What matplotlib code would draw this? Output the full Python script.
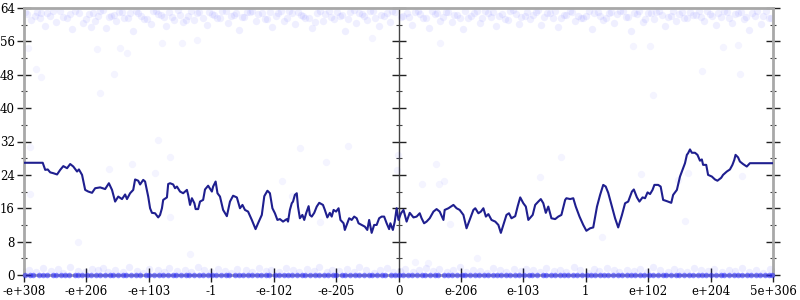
import matplotlib
matplotlib.use("Agg")
import matplotlib.pyplot as plt
from matplotlib.ticker import MultipleLocator

# ---------------- data ----------------
tick_labels = ["-e+308", "-e+206", "-e+103", "-1", "-e-102", "-e-205", "0",
               "e-206", "e-103", "1", "e+102", "e+204", "5e+306"]
y_ticks = [0, 8, 16, 24, 32, 40, 48, 56, 64]

line_x = [0.00, 0.30, 0.34, 0.38, 0.42, 0.47, 0.53, 0.58, 0.63, 0.69,
          0.74, 0.79, 0.85, 0.88, 0.93, 0.98, 1.03, 1.09, 1.14, 1.22,
          1.30, 1.36, 1.41, 1.46, 1.51, 1.57, 1.62, 1.65, 1.70, 1.75,
          1.78, 1.83, 1.86, 1.91, 1.94,
          1.99, 2.02, 2.05, 2.10, 2.15, 2.18, 2.21, 2.23, 2.29, 2.31,
          2.34, 2.39, 2.42, 2.45, 2.50, 2.55, 2.61, 2.63, 2.66, 2.69,
          2.73, 2.75, 2.79, 2.82, 2.87, 2.90, 2.95, 3.01, 3.03, 3.07,
          3.10, 3.14, 3.19, 3.25, 3.30, 3.35, 3.41, 3.46, 3.50, 3.54,
          3.59, 3.65, 3.71, 3.75, 3.81, 3.85, 3.90, 3.94, 3.98, 4.02,
          4.06, 4.10, 4.15, 4.21, 4.23, 4.26, 4.29, 4.31, 4.34, 4.37,
          4.39, 4.42, 4.46, 4.49, 4.52, 4.56, 4.58, 4.61, 4.65, 4.69,
          4.73, 4.79, 4.82, 4.86, 4.90, 4.93, 4.96, 5.00, 5.04, 5.07,
          5.12, 5.14, 5.18, 5.21, 5.25, 5.29, 5.33, 5.36, 5.41, 5.46,
          5.50, 5.53, 5.57, 5.61, 5.65, 5.69, 5.73, 5.77, 5.81, 5.85,
          5.87, 5.91, 5.94,
          5.97, 6.00, 6.04, 6.08,
          6.13, 6.18, 6.24, 6.29, 6.34, 6.37, 6.41, 6.45, 6.50, 6.56,
          6.61, 6.66, 6.72, 6.74, 6.80, 6.84, 6.88, 6.93, 6.98, 7.04,
          7.09, 7.15, 7.20, 7.23, 7.28, 7.32, 7.36, 7.40, 7.44, 7.49,
          7.55, 7.60, 7.64, 7.68, 7.73, 7.77, 7.81, 7.87, 7.91, 7.95,
          8.00,
          8.04, 8.08, 8.15, 8.19, 8.24, 8.28, 8.32, 8.36, 8.40, 8.45,
          8.51, 8.56, 8.61, 8.67, 8.69, 8.75, 8.80, 8.84, 8.90, 8.96,
          9.01, 9.07, 9.12, 9.18, 9.23, 9.28, 9.32, 9.36, 9.42, 9.47,
          9.52, 9.58, 9.63, 9.68, 9.74, 9.77, 9.82, 9.86, 9.91, 9.95,
          9.99,
          10.03, 10.07, 10.10, 10.16, 10.20, 10.24, 10.30, 10.37, 10.40, 10.46,
          10.51, 10.56, 10.59, 10.62, 10.64, 10.67, 10.70, 10.75, 10.79, 10.83,
          10.86, 10.88, 10.93, 10.96, 11.02, 11.07, 11.11, 11.17, 11.20, 11.26,
          11.31, 11.35, 11.38, 11.40, 11.44, 11.47, 11.52, 11.58, 11.63, 12.00]

line_y = [26.9, 26.9, 25.2, 25.3, 24.6, 24.4, 24.1, 25.2, 26.1, 25.6,
          26.6, 26.0, 24.8, 25.3, 24.0, 20.4, 20.0, 19.7, 20.8, 21.0,
          20.6, 22.0, 20.4, 17.6, 18.8, 18.2, 19.3, 18.2, 19.6, 20.4,
          22.9, 22.6, 21.7, 22.8, 22.4,
          18.8, 16.0, 14.9, 14.8, 13.8, 14.4, 16.0, 18.0, 18.6, 21.8,
          22.0, 21.7, 20.8, 21.2, 20.0, 19.6, 20.4, 19.2, 16.8, 18.4,
          17.2, 15.8, 15.8, 17.6, 18.0, 20.5, 21.4, 20.0, 21.2, 22.4,
          19.6, 18.8, 15.6, 14.1, 17.6, 19.0, 18.6, 16.0, 16.8, 15.6,
          15.2, 13.2, 11.0, 12.4, 14.4, 18.9, 20.2, 19.6, 16.0, 14.8,
          13.2, 13.4, 12.8, 13.4, 12.8, 15.6, 17.2, 17.6, 19.2, 19.6,
          16.4, 13.6, 14.4, 13.2, 14.8, 16.5, 14.4, 14.0, 14.9, 16.4,
          17.3, 16.8, 15.6, 13.8, 14.9, 14.0, 15.6, 15.2, 16.0, 13.2,
          12.4, 10.8, 12.4, 13.6, 13.2, 14.0, 13.6, 12.4, 12.0, 11.6,
          10.8, 13.2, 10.1, 12.0, 12.0, 13.6, 14.0, 14.0, 12.4, 11.0,
          12.4, 10.8, 12.8,
          16.0, 13.2, 14.8, 15.6,
          12.8, 14.9, 13.8, 14.0, 14.8, 13.6, 12.4, 12.8, 13.6, 15.2,
          15.8, 15.2, 13.2, 15.6, 16.0, 16.4, 16.8, 16.0, 15.6, 14.4,
          11.2, 13.6, 15.6, 16.0, 14.8, 15.2, 16.0, 14.0, 14.6, 13.2,
          12.8, 12.0, 10.1, 12.0, 14.4, 14.8, 13.6, 14.1, 16.5, 18.6,
          17.2,
          16.4, 13.2, 14.4, 16.8, 17.6, 18.2, 17.2, 14.9, 16.4, 13.6,
          13.4, 14.0, 14.4, 18.0, 18.4, 18.2, 18.4, 16.4, 14.0, 12.0,
          10.6, 11.2, 11.4, 16.4, 19.2, 21.6, 21.2, 19.7, 16.4, 13.6,
          11.4, 14.4, 17.2, 17.6, 20.0, 20.5, 18.6, 17.6, 18.6, 18.4,
          19.8,
          19.4, 20.4, 21.6, 21.6, 21.2, 18.0, 17.7, 17.3, 19.2, 20.4,
          23.6, 25.6, 26.8, 28.8, 29.2, 30.1, 29.3, 29.3, 28.8, 27.4,
          27.7, 26.4, 26.4, 24.0, 23.6, 22.9, 22.6, 23.3, 24.0, 24.8,
          25.3, 26.4, 27.6, 28.8, 28.2, 27.2, 26.6, 26.0, 26.8, 26.8]

top_x = [0.05, 0.12, 0.21, 0.33, 0.41, 0.52, 0.58, 0.69, 0.77, 0.88,
         0.95, 1.04, 1.13, 1.22, 1.31, 1.39, 1.48, 1.57, 1.66, 1.74,
         1.83, 1.92, 2.03, 2.11, 2.19, 2.28, 2.37, 2.46, 2.55, 2.63,
         2.72, 2.81, 2.93, 3.02, 3.09, 3.18, 3.27, 3.36, 3.44, 3.53,
         3.62, 3.71, 3.82, 3.90, 3.98, 4.07, 4.16, 4.25, 4.34, 4.43,
         4.51, 4.62, 4.70, 4.79, 4.88, 4.97, 5.06, 5.14, 5.23, 5.32,
         5.41, 5.50, 5.59, 5.68, 5.77, 5.86, 5.95, 6.04, 6.13, 6.22,
         6.31, 6.40, 6.49, 6.58, 6.67, 6.76, 6.85, 6.94, 7.03, 7.12,
         7.21, 7.30, 7.39, 7.48, 7.57, 7.66, 7.75, 7.84, 7.93, 8.02,
         8.11, 8.20, 8.29, 8.38, 8.47, 8.56, 8.65, 8.74, 8.83, 8.92,
         9.01, 9.10, 9.19, 9.28, 9.37, 9.46, 9.55, 9.64, 9.73, 9.82,
         9.91, 10.00, 10.09, 10.18, 10.27, 10.36, 10.45, 10.54, 10.63, 10.72,
         10.81, 10.90, 10.99, 11.08, 11.17, 11.26, 11.35, 11.44, 11.53, 11.62,
         11.71, 11.80, 11.89, 11.97, 0.28, 1.08, 2.41, 3.57, 4.66, 5.72]
top_y = [62.6, 61.2, 63.1, 59.8, 62.2, 60.7, 63.4, 61.6, 58.9, 62.9,
         60.3, 62.5, 61.0, 63.3, 59.2, 62.0, 60.9, 63.0, 61.7, 58.4,
         62.8, 61.4, 60.1, 63.2, 62.4, 59.6, 61.8, 63.5, 60.6, 62.1,
         61.1, 63.0, 59.9, 62.6, 61.5, 63.3, 60.4, 62.3, 58.7, 61.9,
         63.1, 60.8, 62.7, 61.3, 59.5, 62.9, 61.0, 63.4, 60.2, 62.4,
         61.7, 59.1, 62.8, 60.9, 63.2, 61.4, 62.2, 58.6, 63.0, 60.5,
         62.5, 61.2, 63.3, 59.7, 62.0, 60.6, 63.1, 61.8, 62.7, 60.0,
         63.4, 61.5, 59.3, 62.6, 61.0, 63.0, 60.7, 62.3, 58.9, 61.6,
         62.9, 60.4, 63.2, 61.9, 59.8, 62.5, 61.1, 63.5, 60.2, 62.1,
         61.3, 63.1, 60.0, 62.8, 61.7, 59.4, 62.4, 63.3, 60.9, 61.5,
         62.2, 59.0, 63.0, 61.2, 62.7, 60.3, 63.4, 61.8, 58.5, 62.6,
         60.6, 62.9, 61.4, 63.2, 59.7, 62.1, 60.8, 63.0, 61.6, 62.4,
         63.3, 61.0, 62.5, 59.9, 61.9, 63.1, 60.5, 62.7, 61.3, 58.8,
         62.0, 60.2, 63.4, 61.7, 62.8, 59.5, 61.1, 63.0, 60.7, 62.3]

top2_x = [0.02, 0.17, 0.26, 0.37, 0.47, 0.63, 0.73, 0.82, 0.99, 1.10,
          1.18, 1.27, 1.36, 1.44, 1.52, 1.61, 1.70, 1.79, 1.88, 1.97,
          2.07, 2.15, 2.24, 2.33, 2.50, 2.59, 2.68, 2.77, 2.86, 2.97,
          3.05, 3.14, 3.23, 3.32, 3.40, 3.49, 3.66, 3.75, 3.86, 3.94,
          4.03, 4.12, 4.21, 4.30, 4.39, 4.47, 4.56, 4.74, 4.83, 4.92,
          5.01, 5.10, 5.19, 5.28, 5.37, 5.45, 5.54, 5.63, 5.81, 5.90,
          6.08, 6.17, 6.26, 6.35, 6.44, 6.53, 6.62, 6.71, 6.80, 6.89,
          6.98, 7.07, 7.16, 7.25, 7.34, 7.43, 7.52, 7.61, 7.70, 7.79,
          7.88, 7.97, 8.06, 8.15, 8.24, 8.33, 8.42, 8.51, 8.60, 8.69,
          8.78, 8.87, 8.96, 9.05, 9.14, 9.23, 9.32, 9.41, 9.50, 9.59,
          9.68, 9.77, 9.86, 9.95, 10.04, 10.13, 10.22, 10.31, 10.40, 10.49,
          10.58, 10.67, 10.76, 10.85, 10.94, 11.03, 11.12, 11.21, 11.30, 11.39,
          11.48, 11.57, 11.66, 11.75, 11.84, 11.93]
top2_y = [63.0, 62.1, 61.5, 62.9, 63.4, 61.9, 62.5, 63.2, 61.3, 62.7,
          62.2, 63.5, 61.8, 62.4, 63.1, 61.6, 62.8, 63.3, 62.0, 61.4,
          63.2, 62.6, 61.9, 63.0, 62.3, 61.2, 63.4, 62.7, 61.7, 63.1,
          62.4, 61.5, 63.3, 62.0, 62.9, 61.8, 63.2, 62.5, 61.3, 63.0,
          62.2, 63.4, 61.6, 62.8, 63.1, 62.1, 61.7, 63.3, 62.6, 61.9,
          63.0, 62.3, 61.4, 63.5, 62.7, 62.0, 63.2, 61.6, 62.9, 63.4,
          62.1, 61.8, 63.1, 62.5, 61.5, 63.3, 62.8, 61.9, 63.0, 62.4,
          61.6, 63.2, 62.2, 63.4, 61.7, 62.9, 63.1, 62.0, 61.4, 63.3,
          62.6, 61.8, 63.0, 62.3, 63.5, 61.9, 62.7, 63.2, 61.5, 62.4,
          63.1, 62.0, 61.7, 63.4, 62.8, 62.2, 61.6, 63.0, 62.5, 63.3,
          61.9, 62.7, 63.2, 61.4, 62.9, 63.1, 62.3, 61.8, 63.4, 62.6,
          61.7, 63.0, 62.4, 61.9, 63.3, 62.1, 62.8, 63.2, 61.6, 62.5,
          63.1, 61.8, 62.9, 63.4, 62.2, 61.5]

low_x = [0.08, 0.19, 0.31, 0.44, 0.55, 0.63, 0.74, 0.86, 0.97, 1.09,
         1.18, 1.27, 1.35, 1.46, 1.58, 1.69, 1.81, 1.90, 2.01, 2.14,
         2.24, 2.33, 2.45, 2.58, 2.67, 2.79, 2.88, 2.99, 3.11, 3.22,
         3.31, 3.42, 3.55, 3.66, 3.76, 3.87, 3.96, 4.09, 4.20, 4.31,
         4.40, 4.53, 4.64, 4.73, 4.85, 4.94, 5.05, 5.17, 5.28, 5.37,
         5.48, 5.61, 5.70, 5.82, 5.91, 6.02, 6.11, 6.24, 6.33, 6.44,
         6.55, 6.65, 6.78, 6.87, 6.99, 7.08, 7.19, 7.31, 7.42, 7.51,
         7.63, 7.72, 7.85, 7.96, 8.05, 8.16, 8.27, 8.36, 8.49, 8.58,
         8.69, 8.81, 8.90, 9.03, 9.13, 9.22, 9.34, 9.45, 9.54, 9.66,
         9.78, 9.87, 9.98, 10.08, 10.19, 10.31, 10.42, 10.51, 10.63, 10.74,
         10.85, 10.96, 11.05, 11.18, 11.29, 11.39, 11.50, 11.61, 11.73, 11.84,
         11.95]
low_y = [1.2, 0.6, 1.6, 0.9, 1.4, 0.5, 1.8, 1.0, 0.7, 1.5,
         1.1, 1.7, 0.6, 1.3, 0.8, 1.9, 1.0, 0.5, 1.4, 1.2,
         0.7, 1.6, 0.9, 1.3, 0.6, 1.8, 1.1, 0.8, 1.5, 1.0,
         0.5, 1.4, 1.2, 0.7, 1.7, 0.9, 1.3, 0.6, 1.6, 1.1,
         0.8, 1.5, 1.0, 1.9, 0.6, 1.2, 0.9, 1.4, 0.7, 1.8,
         1.1, 0.5, 1.3, 1.6, 0.8, 1.0, 1.5, 0.7, 1.2, 1.7,
         0.9, 1.4, 0.6, 1.1, 1.8, 0.8, 1.3, 1.0, 0.5, 1.6,
         1.2, 0.7, 1.5, 0.9, 1.4, 1.1, 0.6, 1.7, 1.0, 1.3,
         0.8, 1.9, 1.2, 0.5, 1.4, 0.9, 1.6, 1.1, 0.7, 1.3,
         1.0, 1.5, 0.6, 1.8, 1.2, 0.8, 1.4, 1.0, 0.7, 1.6,
         1.1, 0.9, 1.5, 0.6, 1.3, 1.0, 1.7, 0.8, 1.2, 0.5,
         1.4]

zero_x = [0.02, 0.09, 0.15, 0.24, 0.30, 0.37, 0.46, 0.51, 0.60, 0.66,
          0.72, 0.81, 0.87, 0.93, 1.01, 1.07, 1.16, 1.21, 1.29, 1.37,
          1.43, 1.50, 1.59, 1.64, 1.72, 1.79, 1.86, 1.95, 2.00, 2.08,
          2.16, 2.22, 2.30, 2.38, 2.43, 2.51, 2.60, 2.65, 2.73, 2.80,
          2.86, 2.95, 3.01, 3.08, 3.16, 3.24, 3.29, 3.38, 3.45, 3.51,
          3.59, 3.65, 3.73, 3.80, 3.88, 3.93, 4.02, 4.08, 4.17, 4.23,
          4.30, 4.38, 4.45, 4.50, 4.59, 4.66, 4.72, 4.80, 4.87, 4.95,
          5.00, 5.09, 5.15, 5.22, 5.30, 5.36, 5.44, 5.52, 5.58, 5.66,
          5.73, 5.79, 5.88, 5.94, 6.01, 6.08, 6.15, 6.22, 6.30, 6.37,
          6.42, 6.51, 6.58, 6.64, 6.73, 6.79, 6.86, 6.94, 7.01, 7.07,
          7.15, 7.22, 7.29, 7.37, 7.43, 7.52, 7.58, 7.65, 7.73, 7.79,
          7.87, 7.93, 8.01, 8.09, 8.14, 8.22, 8.31, 8.37, 8.44, 8.51,
          8.59, 8.65, 8.72, 8.80, 8.86, 8.94, 9.02, 9.08, 9.15, 9.23,
          9.30, 9.36, 9.44, 9.51, 9.58, 9.66, 9.72, 9.79, 9.87, 9.94,
          10.01, 10.07, 10.15, 10.23, 10.29, 10.37, 10.44, 10.50, 10.58, 10.66,
          10.72, 10.80, 10.87, 10.93, 11.01, 11.08, 11.16, 11.22, 11.30, 11.37,
          11.44, 11.51, 11.58, 11.65, 11.73, 11.79, 11.87, 11.94, 11.99]
zero_y = [0.0] * len(zero_x)

out_x = [0.06, 0.19, 0.27, 1.22, 1.44, 1.17, 1.65, 1.54, 2.21, 2.53,
         2.77, 10.86, 11.47, 10.08, 9.76, 10.03, 11.20, 11.44, 6.66, 5.58,
         0.10, 0.10, 1.36, 1.73, 2.15, 2.10, 2.34, 4.42, 5.19, 4.84,
         4.13, 4.29, 4.74, 5.98, 5.99, 6.60, 6.38, 6.65, 6.73, 6.82,
         8.60, 8.27, 9.88, 9.26, 10.64, 10.48, 10.59, 11.50, 0.87, 2.66,
         2.34, 6.26, 6.47, 7.26]
out_y = [54.4, 49.4, 47.5, 43.6, 48.2, 54.2, 53.2, 54.4, 55.6, 55.6,
         56.3, 48.9, 48.2, 43.1, 54.9, 55.0, 54.7, 55.1, 55.6, 56.8,
         30.7, 19.4, 25.4, 26.6, 32.4, 24.4, 13.9, 30.4, 30.9, 27.1,
         22.5, 18.9, 12.7, 25.2, 28.8, 26.6, 21.8, 21.8, 22.5, 12.2,
         28.3, 23.5, 24.2, 9.1, 24.4, 22.8, 12.9, 23.7, 7.9, 5.0,
         28.3, 3.1, 2.9, 4.1]

# ---------------- figure ----------------
plt.rcParams['font.family'] = ['DejaVu Serif']
plt.rcParams['font.size'] = 8.5

fig = plt.figure(figsize=(8, 3), dpi=100)
ax = fig.add_axes([24 / 800, 25 / 300, 749 / 800, 267 / 300])

pt_color = '#2a2aff'
ax.scatter(top_x, top_y, s=28, color=pt_color, alpha=0.07, linewidths=0, zorder=2)
ax.scatter(top2_x, top2_y, s=28, color=pt_color, alpha=0.07, linewidths=0, zorder=2)
ax.scatter(out_x, out_y, s=28, color=pt_color, alpha=0.05, linewidths=0, zorder=2)
ax.scatter(low_x, low_y, s=28, color=pt_color, alpha=0.08, linewidths=0, zorder=2,
           clip_on=False)
ax.scatter(zero_x, zero_y, s=16, color=pt_color, alpha=0.55, linewidths=0, zorder=4,
           clip_on=False)

ax.plot(line_x, line_y, color='#1f1f8f', lw=1.5, zorder=3)

ax.set_xlim(0, 12)
ax.set_ylim(0, 64)
ax.set_xticks(range(len(tick_labels)))
ax.set_xticklabels(tick_labels)
ax.set_yticks(y_ticks)
ax.yaxis.set_minor_locator(MultipleLocator(4))

gray = '#a8a8a8'
for side in ['left', 'right', 'top', 'bottom']:
    ax.spines[side].set_color(gray)
    ax.spines[side].set_linewidth(2)
ax.spines['bottom'].set_zorder(1)

ax.tick_params(axis='y', which='major', direction='inout', length=10, width=1,
               color='#222222', left=True, right=True, pad=1.5)
ax.tick_params(axis='y', which='minor', direction='inout', length=5, width=0.8,
               color='#444444', left=True, right=True)
ax.tick_params(axis='x', which='major', direction='inout', length=10, width=1,
               color='#222222', pad=2)
ax.set_facecolor('none')

# center vertical axis at x = "0"
ax2 = fig.add_axes(ax.get_position(), facecolor='none')
ax2.set_xlim(0, 12)
ax2.set_ylim(0, 64)
for side in ['right', 'top', 'bottom']:
    ax2.spines[side].set_visible(False)
ax2.spines['left'].set_position(('data', 6))
ax2.spines['left'].set_color('#444444')
ax2.spines['left'].set_linewidth(1)
ax2.set_xticks([])
ax2.set_yticks(y_ticks)
ax2.yaxis.set_minor_locator(MultipleLocator(4))
ax2.tick_params(axis='y', which='major', direction='inout', length=10, width=1,
                color='#222222', labelleft=False)
ax2.tick_params(axis='y', which='minor', direction='inout', length=5, width=0.8,
                color='#444444', labelleft=False)
ax2.set_zorder(0)
ax.set_zorder(1)

fig.savefig('out.png', dpi=100)
